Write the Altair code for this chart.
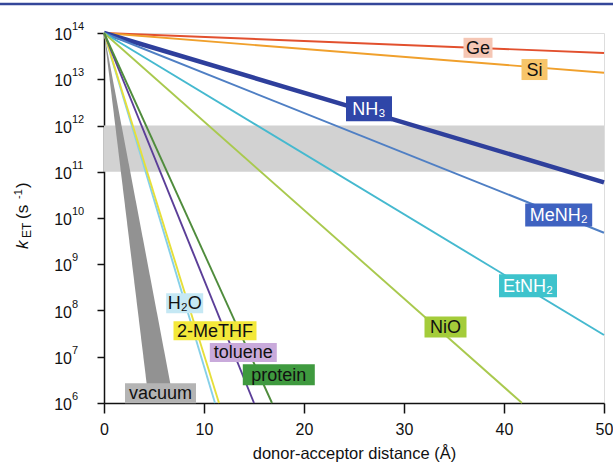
import altair as alt
import pandas as pd

# ---------------- data ----------------
series = ["Ge", "Si", "NH3", "MeNH2", "EtNH2", "NiO", "H2O", "2-MeTHF", "toluene", "protein"]
start_r = 0.0
start_k = 1e14
end_r = [50, 50, 50, 50, 50, 41.8, 11.1, 11.5, 15.0, 16.8]
end_k = [3.7e13, 1.38e13, 5.9e10, 4.8e9, 2.95e7, 1e6, 1e6, 1e6, 1e6, 1e6]
line_colors = ["#e2502e", "#f0a02c", "#2e3f9c", "#4f7fc4", "#45b9cf",
               "#a9c94e", "#86d0e8", "#e6df3a", "#5b3e98", "#4f8c3c"]

vacuum_k = [1e14, 1e6]
vacuum_r_fast = [0.0, 4.5]
vacuum_r_slow = [0.0, 7.0]

band_k_low = [1e11]
band_k_high = [1e12]

label_text = ["Ge", "Si", "NH₃", "MeNH₂", "EtNH₂", "NiO", "H₂O", "2-MeTHF", "toluene", "protein", "vacuum"]
label_r = [37.4, 43.05, 26.5, 45.47, 42.4, 34.15, 8.07, 11.1, 13.93, 17.48, 5.65]
label_k = [10 ** 13.68, 10 ** 13.21, 10 ** 12.36, 10 ** 10.065, 10 ** 8.536, 10 ** 7.643,
           10 ** 8.155, 10 ** 7.561, 10 ** 7.092, 10 ** 6.612, 10 ** 6.21]

y_tick_exp = ["6", "7", "8", "9", "10", "11", "12", "13", "14"]
y_tick_k = [1e6, 1e7, 1e8, 1e9, 1e10, 1e11, 1e12, 1e13, 1e14]
x_ticks = [0, 10, 20, 30, 40, 50]

# ---------------- styles ----------------
box_w = [29, 26, 46, 67, 58, 42, 37, 83, 67, 72, 71]
box_h = [20, 21, 25, 23, 23, 21, 20, 19, 19, 21, 20]
box_fill = ["#f5c6b4", "#f7c56a", "#2f46a8", "#3f62c0", "#3ec3cc", "#a4cc3a",
            "#c5e8f4", "#f3e83a", "#c9aadb", "#3f9a3f", "#b4b4b4"]
white_text = ["NH₃", "MeNH₂", "EtNH₂"]
FONT = "Liberation Sans"

# ---------------- frames ----------------
rows = []
for s, r1, k1 in zip(series, end_r, end_k):
    rows.append({"series": s, "r": start_r, "k": start_k})
    rows.append({"series": s, "r": r1, "k": k1})
line_df = pd.DataFrame(rows)

vac_df = pd.DataFrame({"k": vacuum_k, "r1": vacuum_r_fast, "r2": vacuum_r_slow})
band_df = pd.DataFrame({"klo": band_k_low, "khi": band_k_high})
lab_df = pd.DataFrame({"label": label_text, "r": label_r, "k": label_k})
tick_df = pd.DataFrame({"k": y_tick_k, "exp": y_tick_exp, "base": ["10"] * len(y_tick_k)})

xscale = alt.Scale(domain=[0, 50], nice=False, zero=False)
yscale = alt.Scale(type="log", domain=[1e6, 1e14], nice=False)

xaxis = alt.Axis(values=x_ticks, grid=False, title="donor-acceptor distance (Å)",
                 labelFontSize=16, labelColor="#111", labelPadding=8, labelFlush=False,
                 tickSize=10, tickColor="#111", tickWidth=1.5,
                 domainColor="#111", domainWidth=1.5,
                 titleFontSize=16.5, titleFontWeight="normal", titleColor="#111",
                 titleY=55, titleBaseline="alphabetic")
yaxis = alt.Axis(values=y_tick_k, grid=False, labels=False, title=None,
                 tickSize=7, tickColor="#111", tickWidth=1.5,
                 domainColor="#111", domainWidth=1.5)

X = lambda f: alt.X(f, scale=xscale, axis=xaxis)
Y = lambda f: alt.Y(f, scale=yscale, axis=yaxis)

band = alt.Chart(band_df).mark_rect(color="#d2d2d2").encode(
    x=alt.value(0), x2=alt.value(500),
    y=Y("klo:Q"), y2="khi:Q")

lines = alt.Chart(line_df).mark_line(strokeCap="butt").encode(
    x=X("r:Q"), y=Y("k:Q"), detail="series:N",
    color=alt.Color("series:N", scale=alt.Scale(domain=series, range=line_colors), legend=None),
    strokeWidth=alt.condition(alt.datum.series == "NH3", alt.value(4.5), alt.value(1.9)))

vac = alt.Chart(vac_df).mark_area(orient="horizontal", color="#929292").encode(
    y=Y("k:Q"), x=X("r1:Q"), x2="r2:Q")

boxes = []
for i, t in enumerate(label_text):
    sub = lab_df[lab_df["label"] == t]
    boxes.append(alt.Chart(sub).mark_rect(
        color=box_fill[i],
        xOffset=-box_w[i] / 2, x2Offset=box_w[i] / 2,
        yOffset=-box_h[i] / 2, y2Offset=box_h[i] / 2).encode(
        x=X("r:Q"), x2="r:Q", y=Y("k:Q"), y2="k:Q"))

texts = alt.Chart(lab_df).mark_text(fontSize=18, align="center", baseline="middle", dy=1, font=FONT).encode(
    x=X("r:Q"), y=Y("k:Q"), text="label:N",
    color=alt.condition(alt.FieldOneOfPredicate(field="label", oneOf=white_text),
                        alt.value("white"), alt.value("#111")))

tick_base = alt.Chart(tick_df).mark_text(fontSize=16, align="right", baseline="middle", dy=2,
                                         color="#111", font=FONT).encode(
    x=alt.value(-32), y=Y("k:Q"), text="base:N")
tick_exp = alt.Chart(tick_df).mark_text(fontSize=11, align="left", baseline="middle", dy=-6,
                                        color="#111", font=FONT).encode(
    x=alt.value(-32), y=Y("k:Q"), text="exp:N")

one = pd.DataFrame({"a": [0]})
def ytitle(txt, x, y, size, style="normal"):
    return alt.Chart(one).mark_text(text=txt, angle=270, align="left", baseline="alphabetic",
                                    fontSize=size, fontStyle=style, color="#111", font=FONT).encode(
        x=alt.value(x), y=alt.value(y))

ytitles = [
    ytitle("k", -76, 216, 17, "italic"),
    ytitle("ET", -73, 205, 12),
    ytitle("(s", -76, 186, 17),
    ytitle("-1", -82, 166, 11),
    ytitle(")", -76, 155, 17),
]

top_rule = alt.Chart(one).mark_rule(color="#34479a", strokeWidth=2.5).encode(
    x=alt.value(-104), x2=alt.value(509), y=alt.value(-29))

chart = alt.layer(band, lines, vac, *boxes, texts, tick_base, tick_exp, *ytitles, top_rule).properties(
    width=500, height=370,
    autosize=alt.AutoSizeParams(type="none"),
    padding={"left": 104, "top": 33, "right": 9, "bottom": 59},
    background="white",
).configure_view(fill="#eef0f2", stroke=None).configure(font=FONT)

chart.save("out.html", embed_options={"renderer": "svg", "actions": False})
